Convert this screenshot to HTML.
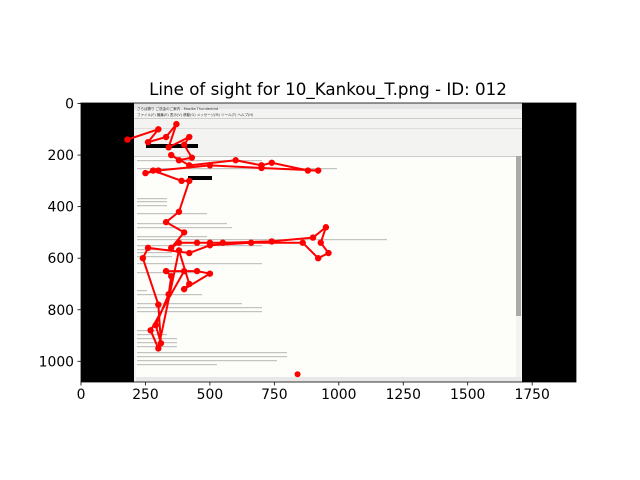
<!DOCTYPE html>
<html><head><meta charset="utf-8"><style>
body{margin:0;background:#fff;}
svg{display:block;font-family:"DejaVu Sans","Liberation Sans","Noto Sans CJK JP",sans-serif;}
</style></head><body>
<svg id="chart" width="640" height="480" viewBox="0 0 640 480">
<rect width="640" height="480" fill="#fff"/>
<text x="328" y="95" font-size="16.7" text-anchor="middle">Line of sight for 10_Kankou_T.png - ID: 012</text>
<g id="img">
<rect x="81" y="103" width="495" height="279" fill="#000"/>
<rect x="134" y="103" width="388" height="279" fill="#f3f3f1"/>
<rect x="134" y="103" width="388" height="6" fill="#e4e4e4"/>
<rect x="134" y="118" width="388" height="1" fill="#ccc"/>
<rect x="134" y="128" width="388" height="1" fill="#ddd"/>
<rect x="134" y="156" width="388" height="1" fill="#ccc"/>
<rect x="136" y="157" width="380" height="222" fill="#fdfdfa"/>
<rect x="516" y="156" width="5" height="160" fill="#aaa"/>
<rect x="146" y="144" width="52" height="4" fill="#000"/>
<rect x="188" y="176" width="24" height="4" fill="#000"/>
<rect x="136" y="377" width="385" height="5" fill="#e8e8e8"/>
<text x="137" y="110" font-size="3.5" fill="#333">さらば勝り ご送金のご案内 - Mozilla Thunderbird</text>
<text x="137" y="116" font-size="3.5" fill="#333">ファイル(F) 編集(E) 表示(V) 移動(G) メッセージ(M) ツール(T) ヘルプ(H)</text>
<g id="txt" fill="#aaa"></g>
</g>
<g id="axes">
<rect x="81" y="103" width="495" height="279" fill="none" stroke="#000" stroke-width="0.8"/>
<g id="xt"></g>
<g id="yt"></g>
</g>
<g id="gaze"></g>
</svg>
<script>
const xTicks=[0,250,500,750,1000,1250,1500,1750];
const yTicks=[0,200,400,600,800,1000];
const gazeX=[180,300,260,330,370,340,420,400,430,380,350,420,600,700,740,880,920,700,500,300,250,280,390,420,380,330,400,350,380,450,500,550,740,900,950,930,960,920,860,660,500,420,260,240,300,310,290,340,350,330,450,500,400,420,380,300,270,400];
const gazeY=[140,100,150,130,80,170,130,160,210,220,200,240,220,240,230,260,260,250,240,260,270,260,300,300,420,460,500,560,540,540,540,540,535,520,480,540,580,600,540,540,550,580,560,600,780,930,860,740,670,650,650,660,720,700,570,950,880,650];
const isoX=[840], isoY=[1050];
const NS="http://www.w3.org/2000/svg";
const X0=81,Y0=103.5,S=495/1920;
const sx=d=>X0+d*S, sy=d=>Y0+d*S;
function mk(t,a,p){const e=document.createElementNS(NS,t);for(const k in a)e.setAttribute(k,a[k]);p.appendChild(e);return e;}
const txt=document.getElementById('txt');
const lines=[[160,125],[168,200],[198,30],[201,30],[205,30],[213,70],[223,90],[227,95],[236,70],[239,250],[245,125],[249,35],[252,35],[256,35],[263,125],[272,65],[290,10],[294,65],[303,105],[307,125],[311,125],[330,20],[334,30],[338,40],[342,40],[346,40],[352,150],[356,150],[360,140],[364,80]];
lines.forEach(l=>{mk('rect',{x:137,y:l[0],width:l[1],height:1.2,opacity:0.7},txt);});
const xt=document.getElementById('xt'),yt=document.getElementById('yt');
xTicks.forEach(v=>{const x=sx(v);
const t=mk('line',{x1:x,x2:x,y1:382,y2:385.5,stroke:'#000','stroke-width':0.8},xt);

const l=mk('text',{x:x,y:399,'font-size':13.9,'text-anchor':'middle'},xt);l.textContent=v;
});
yTicks.forEach(v=>{const y=sy(v);
const t=mk('line',{x1:77.5,x2:81,y1:y,y2:y,stroke:'#000','stroke-width':0.8},yt);

const l=mk('text',{x:74,y:y+5,'font-size':13.9,'text-anchor':'end'},yt);l.textContent=v;
});
const g=document.getElementById('gaze');
const pl=mk('polyline',{points:gazeX.map((v,i)=>sx(v)+','+sy(gazeY[i])).join(' '),fill:'none',stroke:'#f00','stroke-width':2},g);

gazeX.forEach((v,i)=>{const c=mk('circle',{cx:sx(v),cy:sy(gazeY[i]),r:3.2,fill:'#f00'},g);
});
isoX.forEach((v,i)=>{const c=mk('circle',{cx:sx(v),cy:sy(isoY[i]),r:3,fill:'#f00'},g);
});
</script>
</body></html>
